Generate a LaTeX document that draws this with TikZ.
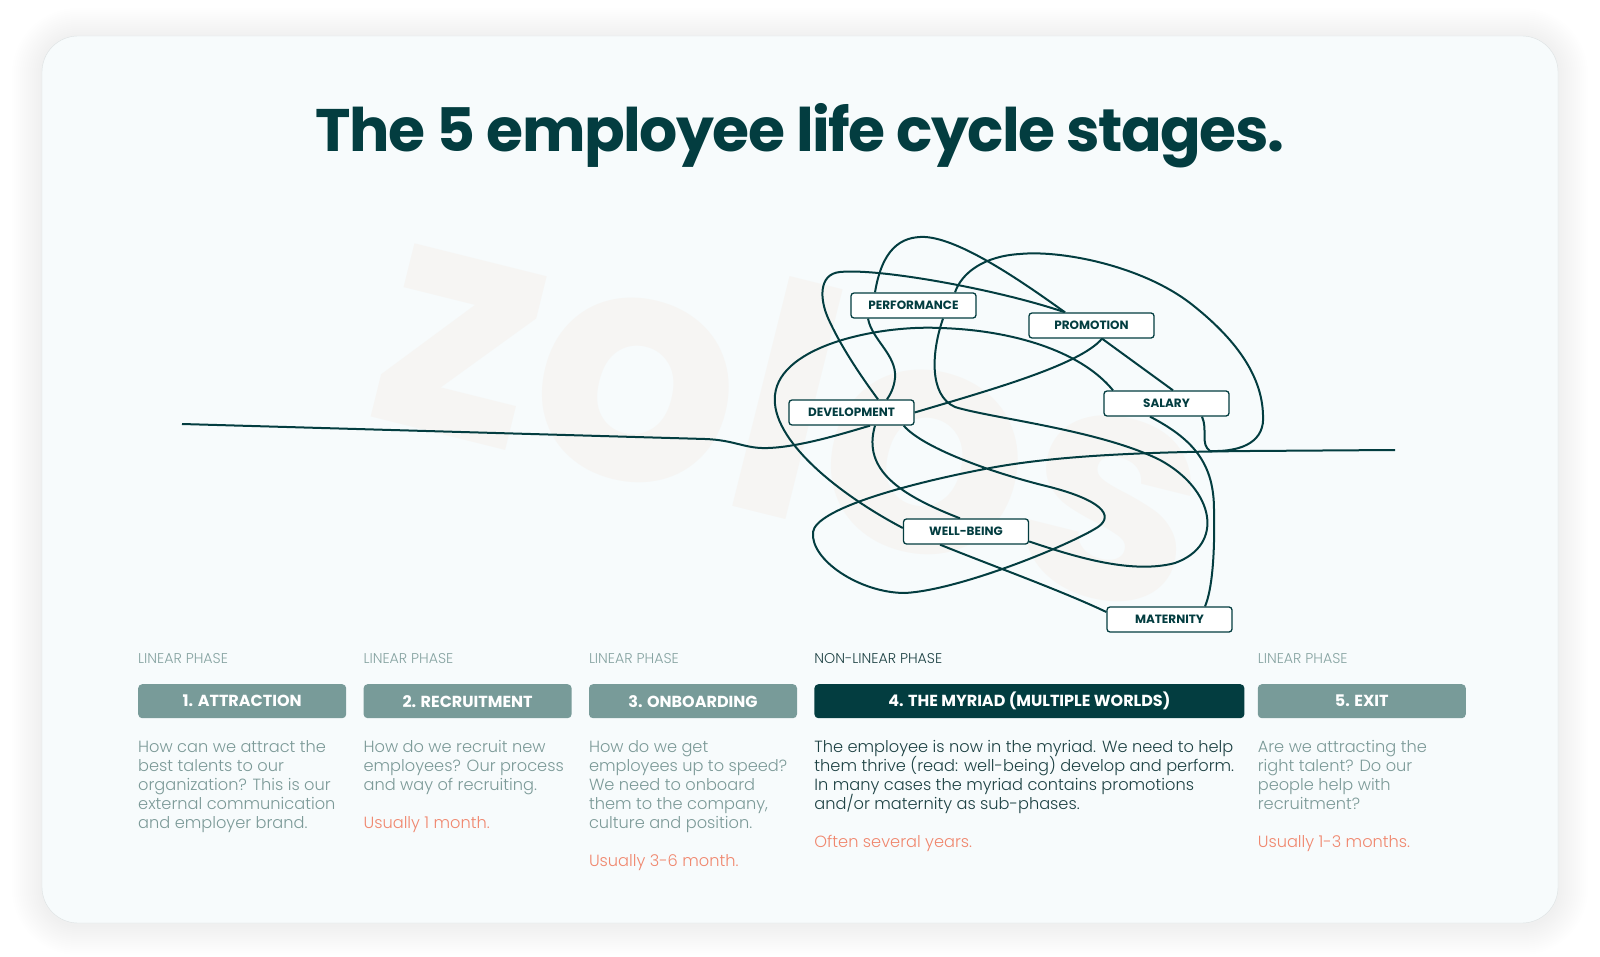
\documentclass[tikz,border=0pt]{standalone}
\usepackage{fontspec}
\setmainfont{Poppins}
\newfontfamily\poplight{Poppins Light}
\newfontfamily\titlefont{Poppins}[LetterSpace=-2.6]
\usepackage{tikz}
\usetikzlibrary{positioning,calc}

\definecolor{deepteal}{HTML}{033D40}
\definecolor{sage}{HTML}{789B99}
\definecolor{phasegrey}{HTML}{86A3A1}
\definecolor{bodygrey}{HTML}{7C9A98}
\definecolor{darkbody}{HTML}{1E4244}
\definecolor{salmon}{HTML}{F0876E}
\definecolor{cardbg}{HTML}{F7FBFC}
\definecolor{cardline}{HTML}{DDE2E3}
\definecolor{ghost}{HTML}{F6F5F3}

\pgfdeclarelayer{back}
\pgfdeclarelayer{mid}
\pgfsetlayers{back,mid,main}

\begin{document}
\begin{tikzpicture}[
  x=1pt, y=-1pt,
  node distance=17pt,
  tag/.style={draw=deepteal, line width=1.3pt, fill=white, rounded corners=3pt, minimum width=125pt, minimum height=25pt, inner sep=0pt, text=deepteal, font=\bfseries\fontsize{12}{12}\selectfont},
  wire/.style={draw=deepteal, line width=2pt},
  stage/.style={fill=sage, rounded corners=4pt, minimum width=208pt, minimum height=34pt, inner sep=0pt, text=white, font=\bfseries\fontsize{16}{16}\selectfont},
  phase/.style={anchor=base west, inner sep=0pt, text=phasegrey, font=\poplight\fontsize{14.2}{14.2}\selectfont},
  blurb/.style={inner sep=0pt, align=left, text=bodygrey, font={\poplight\fontsize{16.2}{19}\selectfont\lineskiplimit=-20pt}}
]
\useasboundingbox (0,0) rectangle (1600,957);

\begin{pgfonlayer}{back}
\fill[white] (0,0) rectangle (1600,957);
\foreach \r in {1,...,15}{
  \pgfmathsetmacro\rad{36+2*\r}
  \fill[black, opacity=0.005, rounded corners=\rad pt] (42-2*\r,38-2*\r) rectangle (1558+2*\r,925+2*\r);
}
\draw[cardline, fill=cardbg, rounded corners=36pt] (42,36) rectangle (1558,923);
\node[rotate=-14, text=ghost, font=\bfseries\fontsize{320}{320}\selectfont] (logo) at (797,402) {zolos};
\end{pgfonlayer}

\node[anchor=base, text=deepteal, font=\titlefont\bfseries\fontsize{60}{60}\selectfont] (title) at (800,152) {The 5 employee life cycle stages.};

\node[tag] (perf) at (913.5,305.5) {PERFORMANCE};
\node[tag] (prom) at (1091.5,325.5) {PROMOTION};
\node[tag] (sal) at (1166.5,403.5) {SALARY};
\node[tag] (dev) at (851.5,412.5) {DEVELOPMENT};
\node[tag] (well) at (966,531.5) {WELL-BEING};
\node[tag] (mat) at (1169.5,619.5) {MATERNITY};
\coordinate (start) at (182,424);
\coordinate (finish) at (1395,450);

\begin{pgfonlayer}{mid}
\draw[wire] (start) -- (705,439) .. controls (735,440) and (745,449) .. (768,448) .. controls (800,447) and (845,433) .. ([xshift=18.5pt]dev.south);
\draw[wire] (dev.east) .. controls (990,390) and (1080,365) .. ([xshift=10.5pt]prom.south);
\draw[wire] ([xshift=10.5pt]prom.south) -- ([xshift=6.5pt]sal.north);
\draw[wire] ([xshift=-16.5pt]sal.south) .. controls (1195,440) and (1214,465) .. (1214,510) .. controls (1215,555) and (1212,590) .. ([xshift=35.5pt]mat.north);
\draw[wire] ([yshift=7.5pt]mat.west) .. controls (1060,590) and (990,565) .. ([xshift=-26pt]well.south);
\draw[wire] ([xshift=23.5pt]dev.south) .. controls (862,470) and (900,495) .. ([xshift=-6pt]well.north);
\draw[wire] ([xshift=-45.5pt]perf.south) .. controls (872,340) and (897,355) .. (895,378) .. controls (894,388) and (890,395) .. ([xshift=35.5pt]dev.north);
\draw[wire] ([xshift=-38.5pt]perf.north) .. controls (882,250) and (900,236) .. (925,237) .. controls (960,239) and (1020,280) .. ([xshift=-26.5pt]prom.north);
\draw[wire] ([xshift=-26.5pt]prom.north) .. controls (1000,290) and (880,268) .. (840,272) .. controls (818,274) and (820,300) .. (828,318) .. controls (840,345) and (860,375) .. ([xshift=26.5pt]dev.north);
\draw[wire] ([xshift=29.5pt]perf.south) .. controls (932,350) and (928,395) .. (955,407) .. controls (990,418) and (1100,430) .. (1160,460) .. controls (1215,490) and (1225,545) .. (1175,563) .. controls (1130,575) and (1070,555) .. ([yshift=-10pt]well.east);
\draw[wire] ([yshift=3.5pt]well.west) .. controls (840,495) and (770,440) .. (775,395) .. controls (780,345) and (880,325) .. (940,328) .. controls (1010,330) and (1080,350) .. ([xshift=-53.5pt]sal.north);
\draw[wire] ([xshift=35.5pt]sal.south) .. controls (1208,430) and (1200,444) .. (1210,451) .. controls (1245,452) and (1265,440) .. (1263,415) .. controls (1262,375) and (1235,338) .. (1190,303) .. controls (1140,265) and (1060,250) .. (1020,254) .. controls (985,256) and (962,272) .. ([xshift=41.5pt]perf.north);
\draw[wire] ([xshift=-11pt]dev.south east) .. controls (925,450) and (1000,475) .. (1050,487) .. controls (1100,500) and (1115,515) .. (1098,527) .. controls (1070,545) and (960,590) .. (905,593) .. controls (860,593) and (810,560) .. (813,532) .. controls (816,510) and (900,485) .. (990,468) .. controls (1060,455) and (1150,452) .. (1250,451) -- (finish);
\end{pgfonlayer}

\node[stage, anchor=north west] (s1) at (138,684) {1. ATTRACTION};
\node[stage, right=of s1] (s2) {2. RECRUITMENT};
\node[stage, right=of s2] (s3) {3. ONBOARDING};
\node[stage, right=of s3, fill=deepteal, minimum width=430pt] (s4) {4. THE MYRIAD (MULTIPLE WORLDS)};
\node[stage, right=13pt of s4] (s5) {5. EXIT};

\node[phase] (p1) at ([yshift=21pt]s1.north west) {LINEAR PHASE};
\node[phase] (p2) at ([yshift=21pt]s2.north west) {LINEAR PHASE};
\node[phase] (p3) at ([yshift=21pt]s3.north west) {LINEAR PHASE};
\node[phase, text=darkbody] (p4) at ([yshift=21pt]s4.north west) {NON-LINEAR PHASE};
\node[phase] (p5) at ([yshift=21pt]s5.north west) {LINEAR PHASE};

\node[blurb, below=22pt of s1.south west, anchor=north west] (b1) {How can we attract the\\best talents to our\\organization? This is our\\external communication\\and employer brand.};
\node[blurb, below=22pt of s2.south west, anchor=north west] (b2) {How do we recruit new\\employees? Our process\\and way of recruiting.\\[19pt]\textcolor{salmon}{Usually 1 month.}};
\node[blurb, below=22pt of s3.south west, anchor=north west] (b3) {How do we get\\employees up to speed?\\We need to onboard\\them to the company,\\culture and position.\\[19pt]\textcolor{salmon}{Usually 3-6 month.}};
\node[blurb, below=22pt of s4.south west, anchor=north west, text=darkbody] (b4) {The employee is now in the myriad. We need to help\\them thrive (read: well-being) develop and perform.\\In many cases the myriad contains promotions\\and/or maternity as sub-phases.\\[19pt]\textcolor{salmon}{Often several years.}};
\node[blurb, below=22pt of s5.south west, anchor=north west] (b5) {Are we attracting the\\right talent? Do our\\people help with\\recruitment?\\[19pt]\textcolor{salmon}{Usually 1-3 months.}};
\end{tikzpicture}
\end{document}
